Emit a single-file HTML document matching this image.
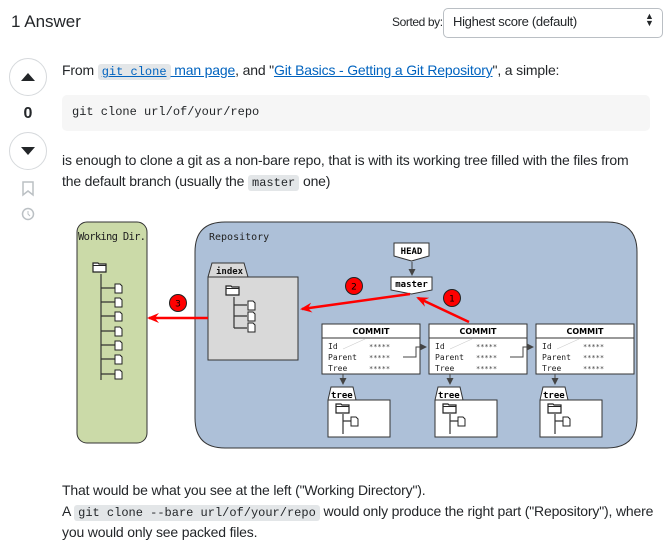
<!DOCTYPE html>
<html><head><meta charset="utf-8"><style>
body{margin:0;width:671px;height:548px;background:#fff;position:relative;overflow:hidden;font-family:"Liberation Sans",sans-serif;color:#232629}
.t{position:absolute;white-space:nowrap;font-size:14px;letter-spacing:-0.17px}
code{font-family:"Liberation Mono",monospace;font-size:12px;background:#e3e6e8;border-radius:3px;padding:1px 4px;letter-spacing:0}
a{color:#0063bf;text-decoration:underline}
</style></head><body>
<div class="t" style="left:11px;top:12px;font-size:17px;letter-spacing:0">1 Answer</div>
<div class="t" style="left:392px;top:15px;font-size:12px;letter-spacing:-0.4px">Sorted by:</div>
<div style="position:absolute;left:443px;top:8px;width:218px;height:28px;border:1px solid #babfc4;border-radius:5px"></div>
<div class="t" style="left:453px;top:14px;font-size:13px;letter-spacing:-0.3px">Highest score (default)</div>
<div class="t" style="left:645px;top:13px;font-size:9px;line-height:7px;letter-spacing:0">▲<br>▼</div>
<svg style="position:absolute;left:0;top:0" width="60" height="230">
<circle cx="28" cy="77" r="18.5" fill="#fff" stroke="#d6d9dc"/><path d="M21 81h14l-7-8z" fill="#232629"/>
<circle cx="28" cy="151" r="18.5" fill="#fff" stroke="#d6d9dc"/><path d="M21 147h14l-7 8z" fill="#232629"/>
<text x="28" y="118" text-anchor="middle" font-family="Liberation Sans" font-weight="bold" font-size="16" fill="#232629">0</text>
<path d="M23 182h10v13l-5-4-5 4z" fill="none" stroke="#bbc0c4" stroke-width="1.5"/>
<circle cx="28" cy="214" r="5.5" fill="none" stroke="#bbc0c4" stroke-width="1.5"/><path d="M28 211v3l2 2" stroke="#bbc0c4" fill="none"/>
</svg>
<div class="t" style="left:62px;top:62px">From <code><a>git clone</a></code><a> man page</a>, and "<a>Git Basics - Getting a Git Repository</a>", a simple:</div>
<div style="position:absolute;left:62px;top:95px;width:588px;height:36px;background:#f6f6f6;border-radius:5px"></div>
<div class="t" style="left:72px;top:105px;font-family:'Liberation Mono',monospace;font-size:12px;letter-spacing:0">git clone url/of/your/repo</div>
<div class="t" style="left:62px;top:152px">is enough to clone a git as a non-bare repo, that is with its working tree filled with the files from</div>
<div class="t" style="left:62px;top:173px">the default branch (usually the <code>master</code> one)</div>
<div class="t" style="left:62px;top:482px">That would be what you see at the left ("Working Directory").</div>
<div class="t" style="left:62px;top:503px">A <code>git clone --bare url/of/your/repo</code> would only produce the right part ("Repository"), where</div>
<div class="t" style="left:62px;top:524px">you would only see packed files.</div>

<svg style="position:absolute;left:0;top:0" width="671" height="548" font-family="DejaVu Sans Mono,monospace">
<defs>
<marker id="ar" markerWidth="12" markerHeight="10" refX="10" refY="5" orient="auto" markerUnits="userSpaceOnUse"><path d="M0 0L12 5L0 10L4 5z" fill="#f00"/></marker>
<marker id="ag" markerWidth="7" markerHeight="7" refX="6" refY="3.5" orient="auto" markerUnits="userSpaceOnUse"><path d="M0 0L7 3.5L0 7z" fill="#444"/></marker>
<g id="file"><path d="M0 0h5l2 2v7h-7z" fill="#fff" stroke="#222" stroke-width="1"/></g>
<g id="fold"><path d="M0 2h5l1 1h7v8h-13z" fill="#fff" stroke="#222" stroke-width="1.2"/><path d="M0 4.5h13" stroke="#222"/></g>
</defs>
<rect x="77" y="222" width="70" height="221" rx="10" fill="#cbdaa8" stroke="#333"/>
<text x="78" y="240" font-size="10.5" fill="#222" textLength="68">Working Dir.</text>
<use href="#fold" x="93" y="261"/>
<path d="M101 274v106" stroke="#333" stroke-width="1.2"/>
<g stroke="#333" stroke-width="1.2"><path d="M101 288h14M101 302h14M101 316h14M101 331h14M101 345h14M101 359h14M101 374h14"/></g>
<use href="#file" x="115" y="284"/><use href="#file" x="115" y="298"/><use href="#file" x="115" y="312"/><use href="#file" x="115" y="327"/><use href="#file" x="115" y="341"/><use href="#file" x="115" y="355"/><use href="#file" x="115" y="370"/>

<path d="M225 222H607Q637 222 637 252V418Q637 448 607 448H225Q195 448 195 418V252Q195 222 225 222z" fill="#adc0d8" stroke="#333"/>
<text x="209" y="240" font-size="10" fill="#222">Repository</text>

<path d="M208 360V277L212 263H244L248 277H298V360z" fill="#d9d9d9" stroke="#333"/>
<path d="M208 277H248" stroke="#333"/>
<text x="216" y="274" font-size="9" font-weight="bold" fill="#111">index</text>
<use href="#fold" x="226" y="284"/>
<path d="M234 297v31M234 305h13M234 316h13M234 328h13" stroke="#333" stroke-width="1.2"/>
<use href="#file" x="248" y="301"/><use href="#file" x="248" y="312"/><use href="#file" x="248" y="323"/>

<path d="M394 243h35v13l-17.5 5l-17.5-5z" fill="#fff" stroke="#333"/>
<text x="411.5" y="254" font-size="9" font-weight="bold" text-anchor="middle">HEAD</text>
<path d="M412 262v13" stroke="#444" marker-end="url(#ag)"/>
<path d="M391 277h41v13l-20.5 4l-20.5-4z" fill="#fff" stroke="#333"/>
<text x="411.5" y="287" font-size="9" font-weight="bold" text-anchor="middle">master</text>

<g font-size="8">
<g id="c1">
<rect x="322" y="324" width="98" height="50" fill="#fff" stroke="#333"/>
<path d="M322 338h98" stroke="#333"/>
<text x="371" y="334" font-family="DejaVu Sans" font-size="8" font-weight="bold" text-anchor="middle">COMMIT</text>
<text x="328" y="349" fill="#222">Id</text><text x="328" y="360" fill="#222">Parent</text><text x="328" y="371" fill="#222">Tree</text>
<text x="369" y="349" fill="#444" font-size="7">*****</text><text x="369" y="360" fill="#444" font-size="7">*****</text><text x="369" y="371" fill="#444" font-size="7">*****</text>
<path d="M343 349l22-10" stroke="#ccc" stroke-width="0.6"/>
</g>
<use href="#c1" x="107"/><use href="#c1" x="214"/>
</g>
<path d="M403 357h13v-10h10" stroke="#444" fill="none" marker-end="url(#ag)"/>
<path d="M510 357h13v-10h10" stroke="#444" fill="none" marker-end="url(#ag)"/>

<g id="tr">
<path d="M343 374v10" stroke="#444" marker-end="url(#ag)"/>
<path d="M328 437V400L331 387H353L356 400H390V437z" fill="#fff" stroke="#333"/>
<path d="M328 400H356" stroke="#333"/>
<text x="331" y="398" font-size="9" font-weight="bold">tree</text>
<use href="#fold" x="336" y="402"/>
<path d="M343 414v20M343 421h8" stroke="#333" stroke-width="1.2"/>
<use href="#file" x="351" y="417"/>
</g>
<use href="#tr" x="107"/><use href="#tr" x="212"/>

<path d="M469 322L418 298" stroke="#f00" stroke-width="2.5" marker-end="url(#ar)"/>
<path d="M410 294L302 309" stroke="#f00" stroke-width="2.5" marker-end="url(#ar)"/>
<path d="M208 318H149" stroke="#f00" stroke-width="2.5" marker-end="url(#ar)"/>
<g font-family="DejaVu Sans" font-size="9" text-anchor="middle">
<circle cx="452" cy="298" r="8.5" fill="#f00" stroke="#222"/><text x="452" y="301.5">1</text>
<circle cx="354" cy="286" r="8.5" fill="#f00" stroke="#222"/><text x="354" y="289.5">2</text>
<circle cx="178" cy="303" r="8.5" fill="#f00" stroke="#222"/><text x="178" y="306.5">3</text>
</g>
</svg>
</body></html>
